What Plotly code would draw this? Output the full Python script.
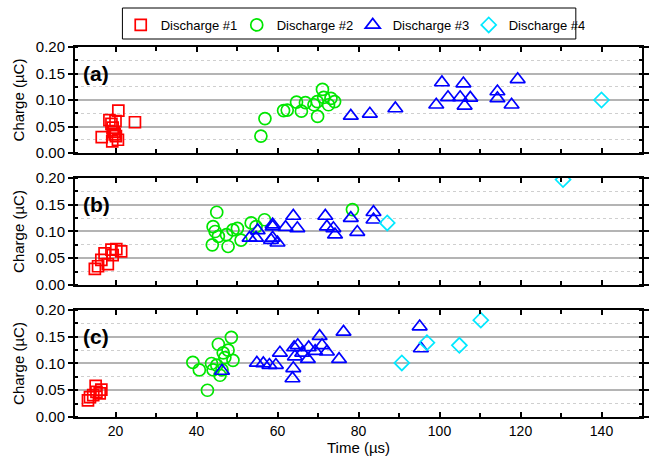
import plotly.graph_objects as go

# ---------------- data ----------------
# Panel (a)
a_d1_t = [16.6, 18.5, 19.0, 19.3, 19.6, 20.1, 19.2, 20.6, 20.7, 20.0, 24.8, 19.8]
a_d1_q = [0.030, 0.062, 0.055, 0.048, 0.040, 0.032, 0.022, 0.025, 0.080, 0.060, 0.058, 0.035]
a_d2_t = [55.9, 56.9, 61.5, 62.4, 64.7, 65.9, 66.9, 69.0, 69.9, 69.8, 71.1, 71.4, 72.6, 73.2, 74.1]
a_d2_q = [0.032, 0.065, 0.080, 0.081, 0.096, 0.079, 0.095, 0.091, 0.069, 0.097, 0.120, 0.105, 0.091, 0.103, 0.097]
a_d3_t = [78.1, 82.8, 89.1, 99.2, 100.6, 102.1, 105.9, 105.1, 106.2, 107.6, 114.3, 114.3, 117.8, 119.3]
a_d3_q = [0.070, 0.074, 0.084, 0.091, 0.133, 0.105, 0.131, 0.105, 0.089, 0.104, 0.116, 0.103, 0.091, 0.139]
a_d4_t = [140.0]
a_d4_q = [0.100]

# Panel (b)
b_d1_t = [14.9, 15.7, 16.5, 18.1, 19.0, 20.2, 21.4, 19.3, 17.3]
b_d1_q = [0.030, 0.035, 0.047, 0.039, 0.066, 0.067, 0.063, 0.056, 0.059]
b_d2_t = [45.0, 44.1, 44.6, 43.9, 45.4, 47.4, 47.8, 49.0, 50.1, 51.0, 53.5, 54.7, 56.8, 78.5]
b_d2_q = [0.136, 0.109, 0.100, 0.075, 0.091, 0.094, 0.072, 0.103, 0.106, 0.084, 0.116, 0.109, 0.122, 0.141]
b_d3_t = [53.1, 55.1, 54.7, 58.8, 58.4, 58.8, 58.8, 60.0, 62.0, 63.9, 64.9, 71.8, 72.2, 73.8, 74.2, 78.1, 79.7, 83.7, 83.7]
b_d3_q = [0.088, 0.102, 0.088, 0.113, 0.084, 0.109, 0.088, 0.079, 0.108, 0.129, 0.106, 0.129, 0.109, 0.106, 0.094, 0.125, 0.099, 0.136, 0.122]
b_d4_t = [87.1, 130.5]
b_d4_q = [0.116, 0.197]

# Panel (c)
c_d1_t = [13.2, 13.7, 14.5, 15.3, 16.1, 16.5, 15.1]
c_d1_q = [0.031, 0.037, 0.041, 0.047, 0.044, 0.051, 0.058]
c_d2_t = [39.1, 40.7, 42.7, 43.7, 44.1, 45.4, 45.8, 45.0, 46.6, 47.0, 47.8, 48.6, 49.0, 46.3]
c_d2_q = [0.102, 0.088, 0.050, 0.100, 0.088, 0.136, 0.078, 0.097, 0.120, 0.111, 0.125, 0.149, 0.106, 0.088]
c_d3_t = [46.3, 54.9, 56.5, 58.0, 59.6, 60.6, 63.9, 63.7, 64.1, 64.3, 65.0, 66.1, 67.5, 67.7,
          69.3, 70.4, 71.0, 72.2, 75.2, 76.3, 95.1, 95.4]
c_d3_q = [0.086, 0.101, 0.100, 0.097, 0.097, 0.120, 0.091, 0.072, 0.130, 0.113, 0.134, 0.120, 0.108, 0.130,
          0.123, 0.151, 0.134, 0.122, 0.108, 0.159, 0.169, 0.128]
c_d4_t = [90.7, 96.9, 104.9, 110.2]
c_d4_q = [0.101, 0.139, 0.134, 0.181]

series_names = ["Discharge #1", "Discharge #2", "Discharge #3", "Discharge #4"]
panel_labels = ["(a)", "(b)", "(c)"]
x_title = "Time (µs)"
y_title = "Charge (µC)"

# ---------------- styling ----------------
colors = ["#ff0000", "#00e600", "#0000ff", "#00e8ff"]
symbols = ["square-open", "circle-open", "triangle-up-open", "diamond-open"]
sizes = [11, 12, 13, 11.5]
FONT = "Liberation Sans, Arial, sans-serif"

panels = [
    [(a_d1_t, a_d1_q), (a_d2_t, a_d2_q), (a_d3_t, a_d3_q), (a_d4_t, a_d4_q)],
    [(b_d1_t, b_d1_q), (b_d2_t, b_d2_q), (b_d3_t, b_d3_q), (b_d4_t, b_d4_q)],
    [(c_d1_t, c_d1_q), (c_d2_t, c_d2_q), (c_d3_t, c_d3_q), (c_d4_t, c_d4_q)],
]
domains = [[0.7135, 1.0], [0.3568, 0.6459], [0.0, 0.2892]]

# plot-area pixel geometry (for the legend frame in paper coordinates)
PL, PW, PB, PH = 75, 574, 417, 370
def px_x(px):
    return (px - PL) / PW
def px_y(py):
    return (PB - py) / PH

fig = go.Figure()
for p, series in enumerate(panels):
    xa = "x" if p == 0 else f"x{p+1}"
    ya = "y" if p == 0 else f"y{p+1}"
    for s, (t, q) in enumerate(series):
        fig.add_trace(go.Scatter(
            x=t, y=q, mode="markers", name=series_names[s],
            xaxis=xa, yaxis=ya, showlegend=(p == 0),
            marker=dict(symbol=symbols[s], size=sizes[s], color=colors[s],
                        line=dict(width=1.7, color=colors[s])),
        ))

layout = dict(
    width=650, height=460,
    margin=dict(l=75, r=1, t=47, b=43),
    paper_bgcolor="white", plot_bgcolor="white",
    font=dict(family=FONT, size=13, color="black"),
    legend=dict(orientation="h", x=px_x(121.3), y=px_y(10), xanchor="left", yanchor="top",
                bgcolor="rgba(0,0,0,0)", borderwidth=0, font=dict(size=13),
                itemwidth=30, entrywidth=71, entrywidthmode="pixels",
                tracegroupgap=0),
    annotations=[],
    shapes=[dict(type="rect", xref="paper", yref="paper",
                 x0=px_x(123), x1=px_x(582), y0=px_y(39), y1=px_y(8),
                 line=dict(color="black", width=1), fillcolor="rgba(0,0,0,0)")],
)

for p in range(3):
    xk = "xaxis" if p == 0 else f"xaxis{p+1}"
    yk = "yaxis" if p == 0 else f"yaxis{p+1}"
    ya = "y" if p == 0 else f"y{p+1}"
    xa = "x" if p == 0 else f"x{p+1}"
    layout[xk] = dict(
        domain=[0, 1], anchor=ya, range=[10, 150],
        tick0=0, dtick=20, ticks="inside", ticklen=5, tickwidth=1.5, tickcolor="black",
        minor=dict(dtick=10, ticks="inside", ticklen=4, tickwidth=1.5, tickcolor="black", showgrid=False),
        showgrid=False, zeroline=False,
        showline=True, linecolor="black", linewidth=2, mirror="ticks",
        showticklabels=(p == 2),
        tickfont=dict(size=14),
        title=dict(text=x_title if p == 2 else "", font=dict(size=15), standoff=3),
    )
    layout[yk] = dict(
        domain=domains[p], anchor=xa, range=[0, 0.2],
        tick0=0, dtick=0.05, tickformat=".2f",
        ticks="outside", ticklen=5, tickwidth=1.5, tickcolor="black",
        showgrid=True, gridcolor="#b4b4b4", gridwidth=1.5,
        minor=dict(dtick=0.025, showgrid=True, gridcolor="#cfcfcf", gridwidth=1,
                   griddash="dot", ticks="inside", ticklen=3, tickcolor="black"),
        zeroline=False,
        showline=True, linecolor="black", linewidth=2, mirror="ticks",
        tickfont=dict(size=15),
        title=dict(text=y_title, font=dict(size=15), standoff=8),
    )
    layout["annotations"].append(dict(
        text=f"<b>{panel_labels[p]}</b>", xref=f"{xa} domain", yref=ya,
        x=0.01, y=0.15, xanchor="left", yanchor="middle", showarrow=False,
        font=dict(size=21, family=FONT, color="black"),
    ))

fig.update_layout(**layout)
fig.write_html("out.html")
